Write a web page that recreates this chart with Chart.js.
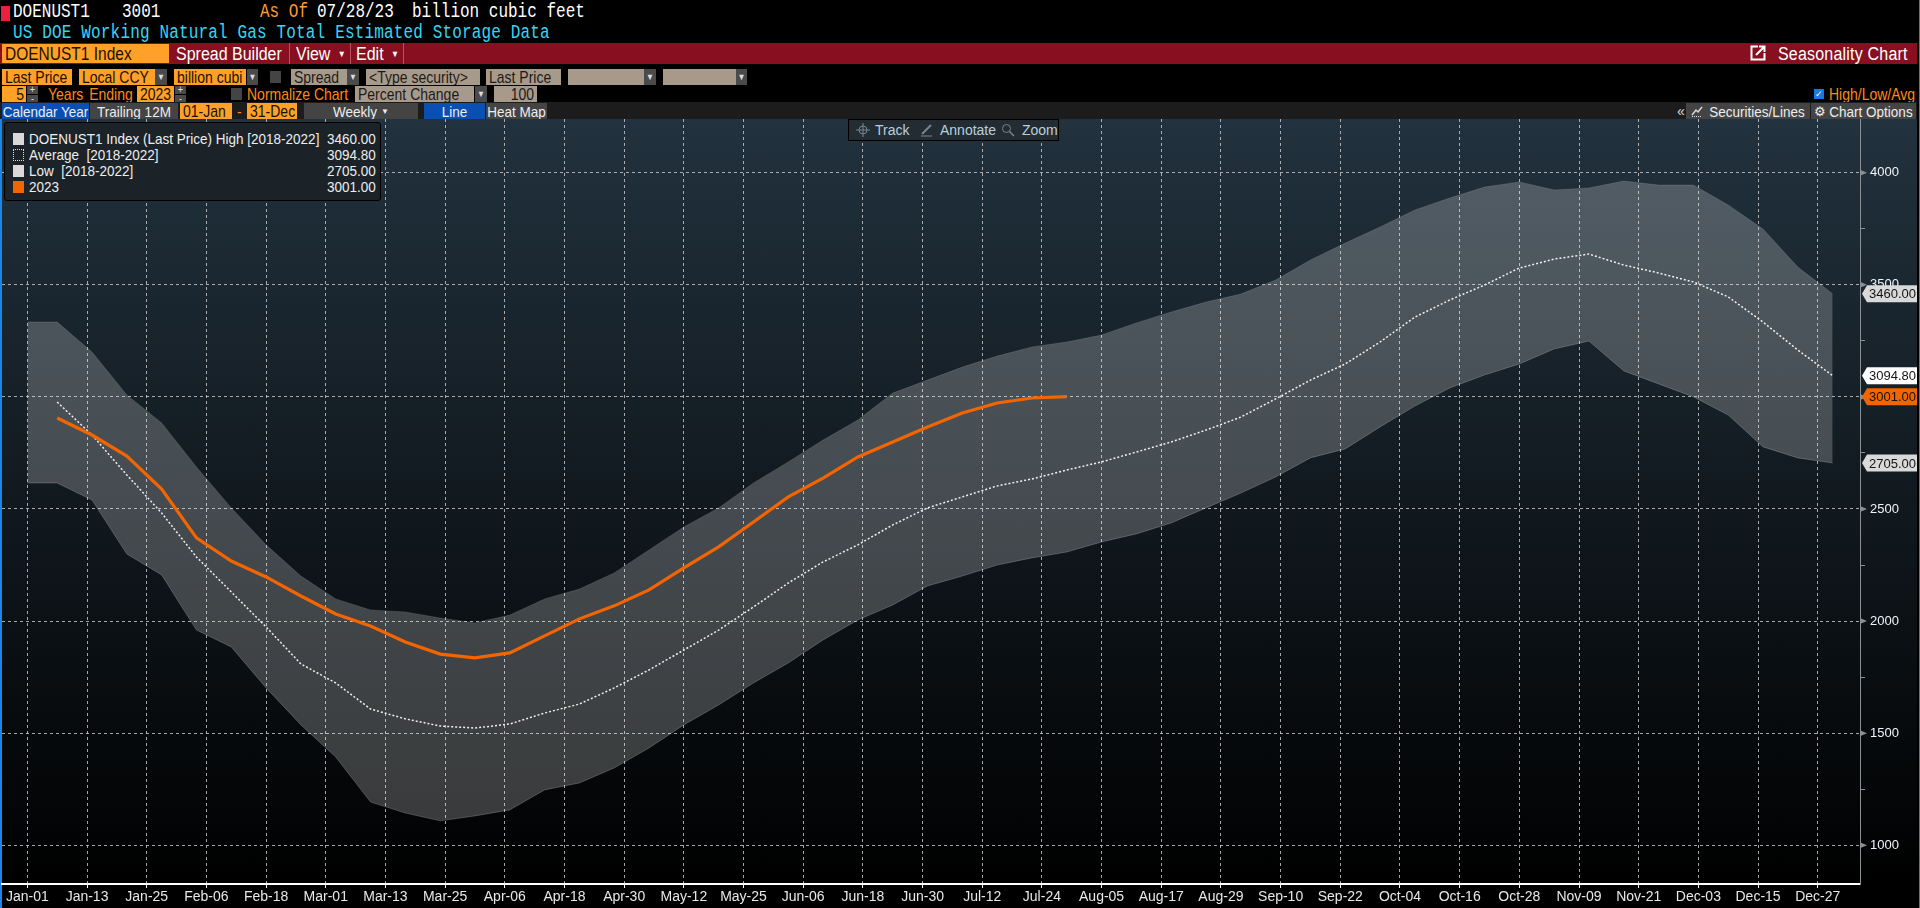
<!DOCTYPE html>
<html><head><meta charset="utf-8">
<script src="https://cdn.jsdelivr.net/npm/chart.js@4"></script>
<style>
html,body{margin:0;padding:0;background:#000;overflow:hidden;width:1920px;height:908px}
body{font-family:"Liberation Sans",sans-serif;font-size:14px;color:#fff}
.a{position:absolute;white-space:nowrap;box-sizing:border-box}
.m{font-family:"Liberation Mono",monospace;font-size:16px;line-height:20px;transform:scaleY(1.25)}
.b{display:flex;align-items:center;overflow:hidden;padding-left:3px;font-size:14px;color:#111}
.tall{display:inline-block;transform:scaleY(1.15)}
.o{background:#ffa028;color:#1a1000}
.t{background:#a89a8b;color:#1d1a16}
.d{background:#4a4a4a;color:#ddd;font-size:8px;justify-content:center;padding:0}
.g{background:#444;color:#eee;justify-content:center;padding:0;font-size:13.5px}
.bl{background:#0a50b4;color:#eee;justify-content:center;padding:0;font-size:13.5px}
.lab{color:#ff8a14;font-size:14px;line-height:16px;transform:scaleY(1.15)}
.r{color:#eee;font-size:13.5px;line-height:16px;transform:scaleY(1.15)}
.h{font-size:16px;line-height:18px;transform:scaleY(1.15)}
.tb{color:#b9cfdc;font-size:14px;line-height:20px;top:0}
</style>
</head>
<body>
<div class="a" style="left:1px;top:6px;width:9px;height:15px;background:#e8213f"></div>
<div class="a m" style="left:13px;top:2px">DOENUST1</div>
<div class="a m" style="left:122px;top:2px">3001</div>
<div class="a m" style="left:260px;top:2px;color:#ff9a2e">As Of</div>
<div class="a m" style="left:317px;top:2px">07/28/23</div>
<div class="a m" style="left:412px;top:2px">billion cubic feet</div>
<div class="a m" style="left:13px;top:23px;color:#38d6f2;letter-spacing:.16px">US DOE Working Natural Gas Total Estimated Storage Data</div>

<div class="a" style="left:0;top:43px;width:1917px;height:21px;background:#870f1f"></div>
<div class="a b o" style="left:2px;top:44px;width:167px;height:19px;font-size:15.5px">DOENUST1 Index</div>
<div class="a h" style="left:176px;top:45px">Spread Builder</div>
<div class="a" style="left:289px;top:43px;width:1px;height:21px;background:#b8525e"></div>
<div class="a h" style="left:296px;top:45px">View <span style="font-size:8px;vertical-align:2px;margin-left:3px">&#9660;</span></div>
<div class="a" style="left:350px;top:43px;width:1px;height:21px;background:#b8525e"></div>
<div class="a h" style="left:356px;top:45px">Edit <span style="font-size:8px;vertical-align:2px;margin-left:3px">&#9660;</span></div>
<div class="a" style="left:403px;top:43px;width:1px;height:21px;background:#b8525e"></div>
<svg class="a" style="left:1750px;top:45px" width="16" height="16" viewBox="0 0 16 16"><path d="M8 1.5H1.5V14.5H14.5V8" fill="none" stroke="#fff" stroke-width="2"/><path d="M6 10L14 2M9 1.5H14.5V7" fill="none" stroke="#fff" stroke-width="2"/></svg>
<div class="a h" style="left:1778px;top:45px;letter-spacing:.2px">Seasonality Chart</div>

<div class="a b o" style="left:2px;top:69px;width:70px;height:16px">Last Price</div>
<div class="a b o" style="left:79px;top:69px;width:76px;height:16px">Local CCY</div>
<div class="a b d" style="left:155px;top:69px;width:12px;height:16px">&#9660;</div>
<div class="a b o" style="left:174px;top:69px;width:72px;height:16px">billion cubi</div>
<div class="a b d" style="left:247px;top:69px;width:11px;height:16px">&#9660;</div>
<div class="a" style="left:270px;top:71px;width:11px;height:12px;background:#444"></div>
<div class="a b t" style="left:291px;top:69px;width:56px;height:16px">Spread</div>
<div class="a b d" style="left:347px;top:69px;width:12px;height:16px">&#9660;</div>
<div class="a b t" style="left:366px;top:69px;width:114px;height:16px">&lt;Type security&gt;</div>
<div class="a b t" style="left:486px;top:69px;width:75px;height:16px">Last Price</div>
<div class="a b t" style="left:568px;top:69px;width:76px;height:16px"></div>
<div class="a b d" style="left:644px;top:69px;width:12px;height:16px">&#9660;</div>
<div class="a b t" style="left:663px;top:69px;width:73px;height:16px"></div>
<div class="a b d" style="left:736px;top:69px;width:11px;height:16px">&#9660;</div>

<div class="a b o" style="left:2px;top:86px;width:24px;height:16px;justify-content:flex-end;padding-right:2px">5</div>
<div class="a b d" style="left:27px;top:86px;width:11px;height:8px;font-size:9px">+</div>
<div class="a b d" style="left:27px;top:95px;width:11px;height:7px;font-size:9px">-</div>
<div class="a lab" style="left:48px;top:86px;word-spacing:2px">Years Ending</div>
<div class="a b o" style="left:137px;top:86px;width:37px;height:16px">2023</div>
<div class="a b d" style="left:175px;top:86px;width:11px;height:8px;font-size:9px">+</div>
<div class="a b d" style="left:175px;top:95px;width:11px;height:7px;font-size:9px">-</div>
<div class="a" style="left:231px;top:88px;width:11px;height:12px;background:#444"></div>
<div class="a lab" style="left:247px;top:86px">Normalize Chart</div>
<div class="a b t" style="left:355px;top:86px;width:119px;height:16px">Percent Change</div>
<div class="a b d" style="left:475px;top:86px;width:12px;height:16px">&#9660;</div>
<div class="a b t" style="left:494px;top:86px;width:43px;height:16px;justify-content:flex-end;padding-right:3px">100</div>
<div class="a" style="left:1814px;top:89px;width:10px;height:10px;background:#1a78e0;color:#fff;font-size:9px;line-height:10px;text-align:center">&#10003;</div>
<div class="a lab" style="left:1829px;top:86px">High/Low/Avg</div>

<div class="a" style="left:0;top:102px;width:1917px;height:17px;background:#1c1c1c"></div>
<div class="a b bl" style="left:2px;top:103px;width:87px;height:16px">Calendar Year</div>
<div class="a b g" style="left:90px;top:103px;width:88px;height:16px">Trailing 12M</div>
<div class="a b o" style="left:180px;top:103px;width:52px;height:16px">01-Jan</div>
<div class="a lab" style="left:237px;top:103px">-</div>
<div class="a b o" style="left:247px;top:103px;width:50px;height:16px">31-Dec</div>
<div class="a b g" style="left:304px;top:103px;width:114px;height:16px">Weekly <span style="font-size:8px;margin-left:4px">&#9660;</span></div>
<div class="a b bl" style="left:424px;top:103px;width:61px;height:16px">Line</div>
<div class="a b g" style="left:486px;top:103px;width:61px;height:16px">Heat Map</div>
<div class="a" style="left:1677px;top:103px;font-size:14px;color:#ddd">&laquo;</div>
<div class="a b g" style="left:1686px;top:103px;width:124px;height:16px"><svg width="12" height="12" viewBox="0 0 12 12" style="margin-right:6px"><path d="M1 10L5 5L7 7L11 2" fill="none" stroke="#ddd" stroke-width="1.4"/><path d="M1 11.5H11" stroke="#ddd" stroke-dasharray="1 1"/></svg>Securities/Lines</div>
<div class="a b g" style="left:1811px;top:103px;width:105px;height:16px"><span style="font-size:13px;margin-right:3px">&#9881;</span>Chart Options</div>

<div id="bg" class="a" style="left:0;top:119px;width:1917px;height:765px;background:linear-gradient(#22323e,#000)"></div>
<div class="a" style="left:0;top:119px;width:2px;height:789px;background:#1a86e8"></div>
<div class="a" style="left:1919px;top:0;width:1px;height:908px;background:#1a86e8"></div>
<div class="a" style="left:0;top:119px;width:1919px;height:789px"><canvas id="c" width="1920" height="789"></canvas></div>

<div class="a" style="left:848px;top:119px;width:211px;height:22px;background:#232c33;border:1px solid #000">
<svg class="a" style="left:7px;top:3px" width="14" height="14" viewBox="0 0 14 14"><circle cx="7" cy="7" r="4" fill="none" stroke="#78858e"/><path d="M7 0V14M0 7H14" stroke="#78858e"/></svg>
<span class="a tb" style="left:26px">Track</span>
<svg class="a" style="left:71px;top:3px" width="14" height="14" viewBox="0 0 14 14"><path d="M2 11L11 2" stroke="#78858e" stroke-width="2"/><path d="M1 13H12" stroke="#78858e"/></svg>
<span class="a tb" style="left:91px">Annotate</span>
<svg class="a" style="left:152px;top:3px" width="14" height="14" viewBox="0 0 14 14"><circle cx="5.5" cy="5.5" r="4" fill="none" stroke="#78858e"/><path d="M8.5 8.5L13 13" stroke="#78858e" stroke-width="1.5"/></svg>
<span class="a tb" style="left:173px">Zoom</span>
</div>

<div class="a" style="left:4px;top:122px;width:377px;height:79px;background:#1b2329;border:1px solid #000;border-radius:3px"></div>
<div class="a" style="left:13px;top:133px;width:11px;height:12px;background:#d9d9d9"></div>
<div class="a r" style="left:29px;top:131px">DOENUST1 Index (Last Price) High [2018-2022]</div>
<div class="a r" style="left:327px;top:131px">3460.00</div>
<div class="a" style="left:13px;top:149px;width:11px;height:12px;border:1px dotted #ddd"></div>
<div class="a r" style="left:29px;top:147px">Average&nbsp; [2018-2022]</div>
<div class="a r" style="left:327px;top:147px">3094.80</div>
<div class="a" style="left:13px;top:165px;width:11px;height:12px;background:#d9d9d9"></div>
<div class="a r" style="left:29px;top:163px">Low&nbsp; [2018-2022]</div>
<div class="a r" style="left:327px;top:163px">2705.00</div>
<div class="a" style="left:13px;top:181px;width:11px;height:12px;background:#f26500"></div>
<div class="a r" style="left:29px;top:179px">2023</div>
<div class="a r" style="left:327px;top:179px">3001.00</div>

<script>
// day of year for each weekly reading (first entry is the flat start at Jan-01)
const days = [0,6,13,20,27,34,41,48,55,62,69,76,83,90,97,104,111,118,125,132,139,146,153,160,167,174,181,188,195,202,209,216,223,230,237,244,251,258,265,272,279,286,293,300,307,314,321,328,335,342,349,356,363];

const high = [3334,3334,3200,3009,2884,2687,2505,2340,2201,2099,2050,2041,2014,1992,2027,2099,2143,2215,2317,2420,2505,2616,2710,2808,2897,3017,3075,3133,3182,3223,3245,3276,3330,3379,3423,3459,3521,3611,3686,3758,3834,3887,3936,3959,3923,3932,3963,3945,3945,3856,3749,3579,3460];
const average = [null,2977,2830,2652,2482,2286,2130,1974,1809,1724,1608,1564,1532,1523,1541,1590,1630,1702,1782,1871,1960,2063,2170,2264,2340,2429,2505,2554,2603,2634,2674,2710,2754,2799,2852,2910,2991,3075,3147,3245,3356,3432,3499,3575,3615,3637,3588,3553,3513,3446,3334,3209,3095];
const low = [2616,2616,2540,2299,2206,1960,1885,1702,1537,1394,1193,1144,1109,1131,1158,1247,1278,1345,1434,1537,1626,1724,1813,1916,2005,2072,2157,2201,2250,2282,2308,2353,2389,2438,2505,2571,2643,2728,2768,2866,2959,3040,3098,3147,3214,3249,3116,3058,3000,2919,2777,2728,2705];
const y2023 = [null,2906,2830,2736,2589,2371,2268,2197,2112,2032,1978,1907,1853,1836,1858,1934,2010,2068,2139,2237,2331,2442,2554,2638,2732,2799,2866,2928,2973,2995,3001];

const xLabels = ['Jan-01','Jan-13','Jan-25','Feb-06','Feb-18','Mar-01','Mar-13','Mar-25','Apr-06','Apr-18','Apr-30','May-12','May-25','Jun-06','Jun-18','Jun-30','Jul-12','Jul-24','Aug-05','Aug-17','Aug-29','Sep-10','Sep-22','Oct-04','Oct-16','Oct-28','Nov-09','Nov-21','Dec-03','Dec-15','Dec-27'];
const tagValues = [3460,3094.8,3001,2705];
const tagColors = ['#d9d9d9','#ffffff','#f26500','#d9d9d9'];

const pts = a => a.map((v,i) => ({x:days[i], y:v}));
const sans = '"Liberation Sans",sans-serif';

// condensed look for the box labels: keep the width, stretch the height
document.querySelectorAll('.b').forEach(el => {
  [...el.childNodes].forEach(n => {
    if (n.nodeType === 3 && n.textContent.trim()) {
      const s = document.createElement('span');
      s.className = 'tall';
      s.textContent = n.textContent;
      el.replaceChild(s, n);
    }
  });
});

// price tags and arrow marks on the right axis
const axisMarks = {
  id:'axisMarks',
  afterDraw(chart){
    const c = chart.ctx, s = chart.scales.y, r = chart.chartArea.right;
    c.save();
    s.ticks.forEach(t => {
      if (t.value % 500) return;
      const y = s.getPixelForValue(t.value);
      c.fillStyle = '#8a8f93';
      c.beginPath(); c.moveTo(r,y-3); c.lineTo(r+7,y); c.lineTo(r,y+3); c.fill();
    });
    c.font = '13px '+sans;
    c.textBaseline = 'middle';
    tagValues.forEach((v,i) => {
      const y = s.getPixelForValue(v), x0 = r+2;
      c.fillStyle = tagColors[i];
      c.beginPath();
      c.moveTo(x0,y); c.lineTo(x0+5,y-8.5); c.lineTo(1917,y-8.5); c.lineTo(1917,y+8.5); c.lineTo(x0+5,y+8.5);
      c.fill();
      c.fillStyle = '#141414';
      c.fillText(v.toFixed(2), x0+7, y+1);
    });
    c.restore();
  }
};

new Chart(document.getElementById('c'), {
  type:'line',
  plugins:[axisMarks],
  data:{datasets:[
    {label:'High', data:pts(high), borderColor:'rgba(255,255,255,.12)', borderWidth:1, backgroundColor:'rgba(255,255,255,.22)', fill:2, pointRadius:0, tension:0, order:3},
    {label:'Average', data:pts(average), borderColor:'#f0f0f0', borderWidth:1.5, borderDash:[2,2], fill:false, pointRadius:0, tension:0, order:2},
    {label:'Low', data:pts(low), borderColor:'rgba(255,255,255,.2)', borderWidth:1, fill:false, pointRadius:0, tension:0, order:3},
    {label:'2023', data:pts(y2023), borderColor:'#f46500', borderWidth:3.2, fill:false, pointRadius:0, tension:0, order:1}
  ]},
  options:{
    responsive:false, animation:false, events:[],
    layout:{padding:{left:2,right:0,top:0,bottom:0}},
    plugins:{legend:{display:false},tooltip:{enabled:false}},
    scales:{
      x:{
        type:'linear', min:-5.1, max:368.5,
        afterBuildTicks(s){ s.ticks = xLabels.map((l,i) => ({value:i*12})); },
        afterFit(s){ s.height = 24; s.paddingLeft = 0; s.paddingRight = 0; },
        grid:{color:'rgba(205,205,205,.8)', lineWidth:1, tickLength:4, tickColor:'#fff', drawTicks:true},
        border:{color:'#ffffff', width:2, dash:[3,3]},
        ticks:{color:'#e8e8e8', font:{family:sans,size:14}, autoSkip:false, maxRotation:0, padding:1,
          callback:v => xLabels[v/12]}
      },
      y:{
        position:'right', min:827.4, max:4239.5,
        afterBuildTicks(s){ const t = []; for (let v = 1000; v <= 4000; v += 250) t.push({value:v}); s.ticks = t; },
        afterFit(s){ s.width = 60; s.paddingTop = 0; s.paddingBottom = 0; },
        grid:{lineWidth:1, color:c => c.tick && c.tick.value % 500 ? 'transparent' : 'rgba(205,205,205,.8)', tickLength:5, tickColor:'#8a8f93'},
        border:{color:'#8a8f93', width:1, dash:[3,3]},
        ticks:{color:'#eef4f8', font:{family:sans,size:13}, padding:5, autoSkip:false,
          callback:v => v % 500 ? '' : String(v)}
      }
    }
  }
});
</script>
</body></html>
